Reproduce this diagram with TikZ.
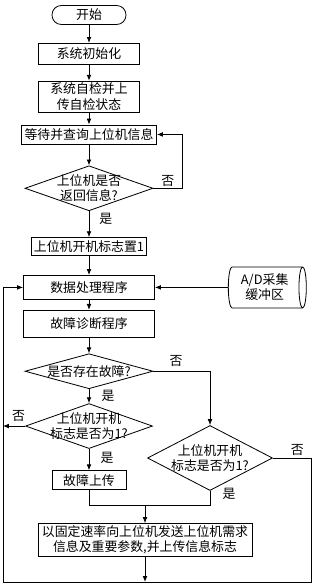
\documentclass[tikz,border=0pt]{standalone}
\usepackage{fontspec}
\setmainfont{Noto Sans CJK SC}
\usepackage{tikz}
\usetikzlibrary{arrows.meta,positioning,shapes.geometric,calc}

\begin{document}
\begin{tikzpicture}[
  font=\fontsize{11}{13}\selectfont,
  line width=0.7pt,
  box/.style={draw, align=center, inner xsep=2pt, inner ysep=1pt},
  term/.style={draw, rounded corners=8pt, minimum width=2.22cm, minimum height=0.57cm, inner sep=1pt},
  dia/.style={draw, diamond, inner sep=0pt},
  store/.style={draw, cylinder, aspect=0.25, align=center, inner sep=1pt},
  arr/.style={-{Latex[length=5pt,width=4pt]}},
  lbl/.style={inner sep=1.5pt}
]
\useasboundingbox (0,0) rectangle (9.39,-17.64);
\node[term] (start) at (2.67,-0.45) {开始};
\node[box, below=0.54cm of start, minimum width=3.03cm, minimum height=0.63cm] (init) {系统初始化};
\node[box, below=0.48cm of init, minimum width=3.03cm, minimum height=0.93cm] (check) {系统自检并上\\传自检状态};
\node[box, below=0.36cm of check, minimum width=4.05cm, minimum height=0.57cm] (wait) {等待并查询上位机信息};
\node[dia, below=0.63cm of wait, minimum width=3.84cm, minimum height=1.35cm,
  label={[align=center]center:上位机是否\\返回信息?}] (ask) {};
\node[box, below=0.78cm of ask, minimum width=3.45cm, minimum height=0.54cm] (flag) {上位机开机标志置1};
\node[box, below=0.57cm of flag, minimum width=3.93cm, minimum height=0.72cm] (proc) {数据处理程序};
\node[store, right=2.19cm of proc, minimum width=1.23cm, minimum height=2.34cm] (buf) {A/D采集\\缓冲区};
\node[box, below=0.3cm of proc, minimum width=3.93cm, minimum height=0.8cm] (diag) {故障诊断程序};
\node[dia, below=0.48cm of diag, minimum width=3.84cm, minimum height=1.05cm,
  label={center:是否存在故障?}] (fault) {};
\node[dia, below=0.42cm of fault, minimum width=3.81cm, minimum height=1.35cm,
  label={[align=center]center:上位机开机\\标志是否为1?}] (onl) {};
\node[box, below=0.64cm of onl, minimum width=2.22cm, minimum height=0.57cm] (upl) {故障上传};
\node[dia, minimum width=3.75cm, minimum height=1.95cm,
  label={[align=center]center:上位机开机\\标志是否为1?}] (onr) at (6.3,-13.74) {};
\node[box, minimum width=6.42cm, minimum height=0.99cm] (send) at (4.35,-16.2) {以固定速率向上位机发送上位机需求\\信息及重要参数,并上传信息标志};
\coordinate (lb) at (0.09,-17.46);
\coordinate (rb) at (9.33,-17.46);
\coordinate (mrg) at ($(send.north)+(0,0.54)$);

\draw[arr] (start) -- (init);
\draw[arr] (init) -- (check);
\draw[arr] (check) -- (wait);
\draw[arr] (wait) -- (ask);
\draw[arr] (ask.east) -- node[lbl, above=0pt]{否} ++(0.87,0) |- (wait.east);
\draw[arr] (ask) -- node[lbl, right=7pt, pos=0.3]{是} (flag);
\draw[arr] (flag) -- (proc);
\draw[arr] (buf) -- (proc);
\draw[arr] (proc) -- (diag);
\draw[arr] (diag) -- (fault);
\draw[arr] (fault) -- node[lbl, right=9pt]{是} (onl);
\draw[arr] (fault.east) -| node[lbl, above=2pt, pos=0.2]{否} (onr.north);
\draw[arr] (onl.west) -- node[lbl, above=2pt, pos=0.3]{否} (onl.west -| lb);
\draw[arr] (onl) -- node[lbl, right=8pt, pos=0.4]{是} (upl);
\draw (upl) |- (mrg);
\draw (onr.south) |- node[lbl, right=9pt, pos=0.12]{是} (mrg);
\draw[arr] (mrg) -- (send);
\draw (onr.east) -| node[lbl, above, pos=0.32]{否} (rb) -- (lb);
\draw[arr] (send) -- (send.south |- lb);
\draw[arr] (lb) |- (proc.west);
\end{tikzpicture}
\end{document}
